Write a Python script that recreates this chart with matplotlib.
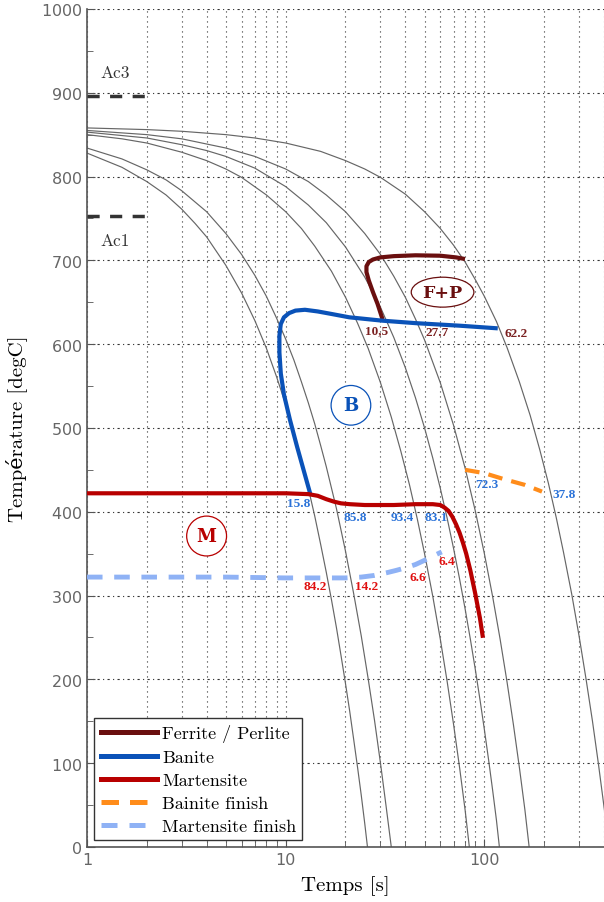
import matplotlib.pyplot as plt
from matplotlib.ticker import FixedLocator, MultipleLocator, NullFormatter

# cooling curves: time [s] / temperature [degC]
cool1_t = [1, 1.5, 2, 2.5, 3, 3.5, 4, 5, 6, 7, 8, 9, 10, 11, 12, 13, 14, 15, 16,
           17, 18, 19, 20, 21, 22, 23, 24, 25, 25.8]
cool1_T = [828, 811, 794, 778, 761, 744, 728, 694, 661, 628, 595, 561, 528, 495, 461,
           428, 395, 361, 328, 295, 262, 228, 195, 162, 128, 95, 62, 28, 0]
cool2_t = [1, 1.5, 2, 2.5, 3, 4, 5, 6, 7, 8, 9, 10, 11, 12, 13, 14, 15, 16, 18, 20,
           22, 24, 26, 28, 30, 32, 34]
cool2_T = [834, 821, 808, 796, 783, 758, 732, 707, 682, 657, 631, 606, 581, 555, 530,
           505, 479, 454, 404, 353, 302, 252, 201, 151, 100, 49, 0]
cool3_t = [1, 1.5, 2, 3, 4, 5, 6, 8, 10, 12, 14, 17, 20, 23, 26, 30, 34, 38, 42, 46,
           50, 55, 60, 65, 70, 75, 80, 84]
cool3_T = [850, 845, 840, 829, 819, 809, 799, 778, 758, 738, 717, 687, 656, 625, 595,
           554, 513, 472, 432, 391, 350, 299, 248, 197, 146, 95, 44, 0]
cool4_t = [1, 2, 3, 4, 5, 7, 10, 13, 16, 20, 25, 30, 35, 40, 45, 50, 55, 60, 65, 70,
           75, 80, 85, 90, 95, 100, 105, 110, 115, 119]
cool4_T = [853, 846, 838, 831, 824, 810, 788, 766, 745, 716, 680, 644, 608, 572, 536,
           500, 464, 428, 392, 356, 320, 284, 248, 212, 176, 140, 104, 68, 32, 0]
cool5_t = [1, 2, 3, 5, 7, 10, 13, 16, 20, 25, 30, 35, 40, 45, 50, 60, 70, 80, 90, 100,
           110, 120, 130, 140, 150, 160, 168]
cool5_T = [855, 850, 845, 834, 824, 809, 794, 778, 758, 732, 707, 681, 656, 630, 605,
           554, 503, 452, 401, 350, 299, 248, 197, 146, 95, 44, 0]
cool6_t = [1, 2, 3, 5, 7, 10, 15, 20, 25, 30, 40, 50, 60, 70, 80, 90, 100, 115, 130,
           150, 170, 190, 210, 230, 250, 275, 300, 325, 350, 375, 400, 424]
cool6_T = [858, 856, 854, 850, 846, 840, 830, 819, 809, 799, 779, 758, 738, 718, 698,
           677, 657, 627, 596, 555, 515, 474, 434, 393, 352, 302, 251, 200, 150, 99, 48, 0]
cooling = [(cool1_t, cool1_T), (cool2_t, cool2_T), (cool3_t, cool3_T),
           (cool4_t, cool4_T), (cool5_t, cool5_T), (cool6_t, cool6_T)]

# transformation lines
fp_t = [30.5, 29, 27.5, 26.2, 25.5, 25.5, 26.2, 27.5, 30, 35, 45, 60, 72, 78]
fp_T = [632, 648, 662, 676, 686, 693, 698, 701, 703.5, 705, 706, 705.5, 703.5, 702]
bs_t = [13.2, 12.3, 11.4, 10.5, 9.8, 9.45, 9.3, 9.3, 9.45, 9.8, 10.4, 11.2, 12.5,
        14.5, 17, 20.9, 30.6, 45.3, 75, 114]
bs_T = [424, 450, 478, 510, 540, 565, 590, 610, 624, 632, 637, 640, 641,
        639, 636, 632, 628, 625, 622, 619]
ms_t = [1, 5, 10, 13, 14.5, 16, 17.5, 19, 21, 25, 35, 45, 55, 60, 63, 66, 69, 72, 75,
        78, 81, 85, 90, 95, 98]
ms_T = [422, 422, 422, 421, 419, 415, 412, 410, 409, 408, 408, 409, 409, 408, 405,
        401, 394, 385, 375, 363, 350, 330, 302, 273, 252]
bf_t = [80, 100, 125, 160, 195]
bf_T = [450, 446, 439, 432, 424]
mf_t = [1, 5, 10, 15, 20, 24, 28, 32, 36, 40, 45, 50, 55, 61]
mf_T = [322, 322, 321, 321, 321, 322, 324, 327, 330, 333, 337, 342, 347, 352]

ac3, ac1 = 896, 753

# phase fractions written on the chart
fp_labels = ['10,5', '27.7', '62.2']
fp_lab_t = [28.6, 58, 145]
fp_lab_T = [617, 615, 613]
b_labels = ['15.8', '85.8', '93.4', '83.1', '72.3', '37.8']
b_lab_t = [11.6, 22.5, 38.5, 57, 103, 251]
b_lab_T = [410, 394, 394, 394, 433, 421]
m_labels = ['84.2', '14.2', '6.6', '6.4']
m_lab_t = [14, 25.5, 46, 64.5]
m_lab_T = [311, 311, 322, 341]

c_fp = '#6a0f0f'
c_b = '#0a52b8'
c_m = '#b80000'
c_bf = '#ff8c1a'
c_mf = '#8fb2f5'

serif = ['cmr10', 'DejaVu Serif']
plt.rcParams['axes.formatter.use_mathtext'] = True

fig = plt.figure(figsize=(6.04, 9.03), dpi=100)
ax = fig.add_axes([0.144, 0.061, 0.856, 0.928])

for t, T in cooling:
    ax.plot(t, T, color='#666666', lw=0.85, zorder=2)

ax.plot([1, 2], [ac3, ac3], color='#333333', lw=2.5, dashes=(3.5, 3), zorder=3)
ax.plot([1, 2], [ac1, ac1], color='#333333', lw=2.5, dashes=(3.5, 3), zorder=3)
ax.text(1.38, 924, 'Ac3', fontsize=12.5, family=serif, color='#333333', ha='center', va='center')
ax.text(1.38, 724, 'Ac1', fontsize=12.5, family=serif, color='#333333', ha='center', va='center')

ax.plot(fp_t, fp_T, color=c_fp, lw=3, label='Ferrite / Perlite', zorder=4)
ax.plot(bs_t, bs_T, color=c_b, lw=3, label='Banite', zorder=4)
ax.plot(ms_t, ms_T, color=c_m, lw=3, label='Martensite', zorder=4)
ax.plot(bf_t, bf_T, color=c_bf, lw=3, dashes=(3.5, 2.2), label='Bainite finish', zorder=4)
ax.plot(mf_t, mf_T, color=c_mf, lw=3.5, dashes=(3.2, 2.4), label='Martensite finish', zorder=4)

for s, t, T in zip(fp_labels, fp_lab_t, fp_lab_T):
    ax.text(t, T, s, fontsize=9.5, family='Liberation Serif', weight='bold', color='#7a2020',
            ha='center', va='center', zorder=5)
for s, t, T in zip(b_labels, b_lab_t, b_lab_T):
    ax.text(t, T, s, fontsize=9.5, family='Liberation Serif', weight='bold', color='#2a72d8',
            ha='center', va='center', zorder=5)
for s, t, T in zip(m_labels, m_lab_t, m_lab_T):
    ax.text(t, T, s, fontsize=9.5, family='Liberation Serif', weight='bold', color='#e01010',
            ha='center', va='center', zorder=5)

# region labels
ax.text(61.6, 662, 'F+P', fontsize=12.5, family='DejaVu Serif', weight='bold', color=c_fp,
        ha='center', va='center', zorder=5,
        bbox=dict(boxstyle='ellipse,pad=0.12', fc='white', ec=c_fp, lw=0.9))
ax.text(21.3, 527, 'B', fontsize=13, family='DejaVu Serif', weight='bold', color=c_b,
        ha='center', va='center', zorder=5,
        bbox=dict(boxstyle='circle,pad=0.6', fc='white', ec=c_b, lw=0.9))
ax.text(4.0, 371, 'M', fontsize=13, family='DejaVu Serif', weight='bold', color=c_m,
        ha='center', va='center', zorder=5,
        bbox=dict(boxstyle='circle,pad=0.55', fc='white', ec=c_m, lw=0.9))

ax.set_xscale('log')
ax.set_xlim(1, 400)
ax.set_ylim(0, 1000)

ax.xaxis.set_major_locator(FixedLocator([1, 10, 100]))
ax.set_xticklabels(['1', '10', '100'])
minor_x = [m * d for d in (1, 10, 100) for m in range(2, 10) if m * d <= 400]
ax.xaxis.set_minor_locator(FixedLocator(minor_x))
ax.xaxis.set_minor_formatter(NullFormatter())
ax.yaxis.set_major_locator(MultipleLocator(100))
ax.yaxis.set_minor_locator(MultipleLocator(50))

ax.grid(True, which='both', axis='x', color='#333333', lw=0.8, linestyle=(0, (1, 3.5)))
ax.grid(True, which='major', axis='y', color='#333333', lw=0.8, linestyle=(0, (2, 3, 1, 3)))
ax.set_axisbelow(True)

ax.spines['top'].set_visible(False)
ax.spines['right'].set_visible(False)
ax.spines['left'].set_color('#555555')
ax.spines['bottom'].set_color('#555555')
ax.spines['left'].set_linewidth(1.2)
ax.spines['bottom'].set_linewidth(1.2)
ax.tick_params(which='both', direction='in', colors='#555555', labelcolor='#666666',
               labelsize=11.5, top=False, right=False)
ax.tick_params(which='major', length=6)
ax.tick_params(which='minor', length=4)

ax.set_xlabel('Temps [s]', fontsize=15, family=serif, labelpad=6)
ax.set_ylabel('Température [degC]', fontsize=15, family=serif, labelpad=10)

leg = ax.legend(loc='lower left', bbox_to_anchor=(0.014, 0.008), borderaxespad=0,
                prop={'family': serif, 'size': 13}, fancybox=False, framealpha=1,
                edgecolor='#333333', handlelength=3.1, handletextpad=0.3,
                labelspacing=0.4, borderpad=0.35)
leg.get_frame().set_linewidth(1.0)
for line in leg.get_lines():
    line.set_linewidth(3.6)

fig.savefig('out.png', dpi=100)
